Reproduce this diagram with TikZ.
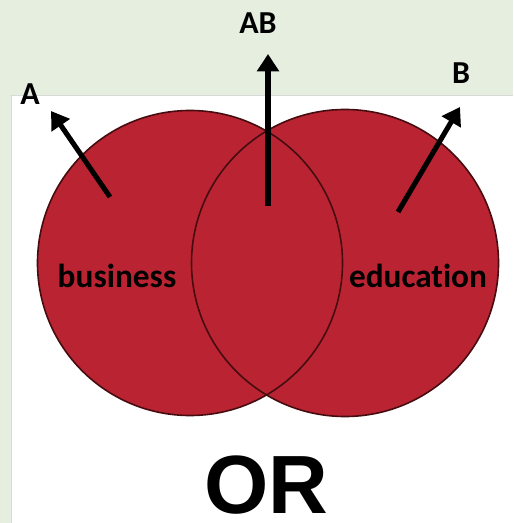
\documentclass[tikz,border=0pt]{standalone}
\usepackage{fontspec}
\setmainfont[Ligatures=NoCommon]{Carlito}
\newfontfamily\orfont{Liberation Sans}
\usetikzlibrary{arrows.meta}
\definecolor{bggreen}{RGB}{230,238,224}
\definecolor{vennred}{RGB}{186,36,50}
\definecolor{venndark}{RGB}{70,12,16}
\tikzset{
  vennfill/.style={fill=vennred},
  vennline/.style={draw=venndark,line width=1.2pt},
  arrowline/.style={line width=3.8pt,-{Triangle[width=16pt,length=13pt]}},
  lbl/.style={font=\bfseries\fontsize{24}{24}\selectfont,inner sep=0pt},
  word/.style={font=\bfseries\fontsize{25}{25}\selectfont,inner sep=0pt,anchor=base}
}
\begin{document}
\begin{tikzpicture}[x=0.75pt,y=-0.75pt]
\useasboundingbox (0,0) rectangle (513,523);
\fill[bggreen] (0,0) rectangle (513,523);
\fill[white] (11,95) rectangle (513,523);
\draw[black!15,line width=0.6pt] (11,95) -- (513,95);
\draw[black!15,line width=0.6pt] (11,95) -- (11,523);
% circles
\path[vennfill] (190,263) circle (152.5);
\path[vennfill] (345,263) circle (153.5);
\path[vennline] (190,263) circle (152.5);
\path[vennline] (345,263) circle (153.5);
% labels
\node[word] (bus) at (117,287) {business};
\node[word] (edu) at (418,287) {educat\kern0pt ion};
\node[lbl] (A) at (30,94) {A};
\node[lbl] (B) at (461,73) {B};
\node[lbl] (AB) at (258,23) {AB};
\node[inner sep=0pt,anchor=base,text depth=0pt,font=\orfont\bfseries\fontsize{62}{62}\selectfont] (or) at (266,513) {OR};
% arrows
\coordinate (ta) at (110,197);
\coordinate (ha) at (51,111);
\coordinate (tab) at (268,206);
\coordinate (hab) at (268,54);
\coordinate (tb) at (398,212);
\coordinate (hb) at (460,107);
\draw[arrowline] (ta) -- (ha);
\draw[arrowline] (tab) -- (hab);
\draw[arrowline] (tb) -- (hb);
\end{tikzpicture}
\end{document}
